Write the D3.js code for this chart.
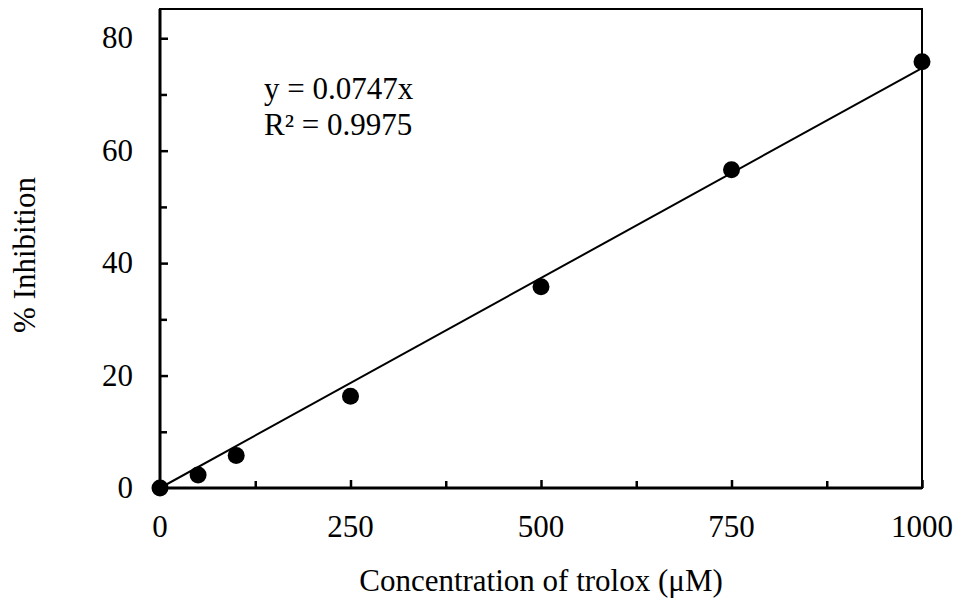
<!DOCTYPE html>
<html lang="en">
  <head>
    <meta charset="UTF-8" />
    <title>Trolox standard curve</title>
    <script src="https://cdn.jsdelivr.net/npm/d3@7"></script>
    <style>
      body { margin: 0; background: #fff; }
      text { font-family: "Liberation Serif", "Times New Roman", serif; fill: #000; }
    </style>
  </head>
  <body>
    <div id="container"></div>
    <script>
      // data
      const concentrations = [0, 50, 100, 250, 500, 750, 1000]
      const inhibition = [0, 2.3, 5.8, 16.3, 35.8, 56.6, 75.8]
      const slope = 0.0747
      const equationLines = ['y = 0.0747x', 'R\u00b2 = 0.9975']
      const xLabelTicks = [0, 250, 500, 750, 1000]
      const xMinorTicks = [125, 375, 625, 875]
      const yLabelTicks = [0, 20, 40, 60, 80]
      const yMinorTicks = [10, 30, 50, 70]

      const width = 961
      const height = 602
      const marginTop = 9
      const marginRight = 39
      const marginBottom = 114
      const marginLeft = 160

      const xScale = d3.scaleLinear()
        .domain([0, 1000])
        .range([marginLeft, width - marginRight])

      const yScale = d3.scaleLinear()
        .domain([0, 85.2])
        .range([height - marginBottom, marginTop])

      const svg = d3.create('svg')
        .attr('width', width)
        .attr('height', height)
        .attr('viewBox', [0, 0, width, height])

      // plot frame: thin top/right, heavier axes
      svg.append('rect')
        .attr('x', marginLeft)
        .attr('y', marginTop)
        .attr('width', width - marginRight - marginLeft)
        .attr('height', height - marginBottom - marginTop)
        .attr('fill', 'none')
        .attr('stroke', '#000')
        .attr('stroke-width', 2)

      // x axis, ticks point inward
      const xAxis = svg.append('g')
        .attr('transform', `translate(0, ${height - marginBottom})`)
      xAxis.call(d3.axisTop(xScale).tickValues(xLabelTicks).tickSize(8).tickFormat(''))
      xAxis.append('g').call(d3.axisTop(xScale).tickValues(xMinorTicks).tickSize(7).tickFormat(''))
      xAxis.selectAll('.domain').remove()
      xAxis.selectAll('line').attr('stroke', '#000').attr('stroke-width', 2.5)
      xAxis.append('line')
        .attr('x1', marginLeft).attr('x2', width - marginRight)
        .attr('stroke', '#000').attr('stroke-width', 3)
      xAxis.selectAll('text.lbl')
        .data(xLabelTicks)
        .join('text')
        .attr('class', 'lbl')
        .attr('x', d => xScale(d))
        .attr('y', 49)
        .attr('text-anchor', 'middle')
        .attr('font-size', 31)
        .text(d => d)

      // y axis
      const yAxis = svg.append('g')
        .attr('transform', `translate(${marginLeft}, 0)`)
      yAxis.call(d3.axisRight(yScale).tickValues(yLabelTicks).tickSize(8).tickFormat(''))
      yAxis.append('g').call(d3.axisRight(yScale).tickValues(yMinorTicks).tickSize(7).tickFormat(''))
      yAxis.selectAll('.domain').remove()
      yAxis.selectAll('line').attr('stroke', '#000').attr('stroke-width', 2.5)
      yAxis.append('line')
        .attr('y1', marginTop).attr('y2', height - marginBottom)
        .attr('stroke', '#000').attr('stroke-width', 3)
      yAxis.selectAll('text.lbl')
        .data(yLabelTicks)
        .join('text')
        .attr('class', 'lbl')
        .attr('x', -27)
        .attr('y', d => yScale(d) + 10)
        .attr('text-anchor', 'end')
        .attr('font-size', 31)
        .text(d => d)

      // trend line y = 0.0747x
      const line = d3.line()
        .x(d => xScale(d))
        .y(d => yScale(slope * d))
      svg.append('path')
        .datum([0, 1000])
        .attr('d', line)
        .attr('fill', 'none')
        .attr('stroke', '#000')
        .attr('stroke-width', 2)

      // points
      svg.append('g')
        .selectAll('circle')
        .data(concentrations)
        .join('circle')
        .attr('cx', d => xScale(d))
        .attr('cy', (d, i) => yScale(inhibition[i]))
        .attr('r', 8.5)
        .attr('fill', '#000')

      // equation
      svg.append('g')
        .selectAll('text')
        .data(equationLines)
        .join('text')
        .attr('x', 264)
        .attr('y', (d, i) => 99 + i * 36)
        .attr('font-size', 31)
        .text(d => d)

      // axis titles
      svg.append('text')
        .attr('x', xScale(500))
        .attr('y', 591)
        .attr('text-anchor', 'middle')
        .attr('font-size', 31)
        .text('Concentration of trolox (\u03bcM)')

      svg.append('text')
        .attr('transform', `translate(35, 255) rotate(-90)`)
        .attr('text-anchor', 'middle')
        .attr('font-size', 31)
        .text('% Inhibition')

      container.append(svg.node())
    </script>
  </body>
</html>
